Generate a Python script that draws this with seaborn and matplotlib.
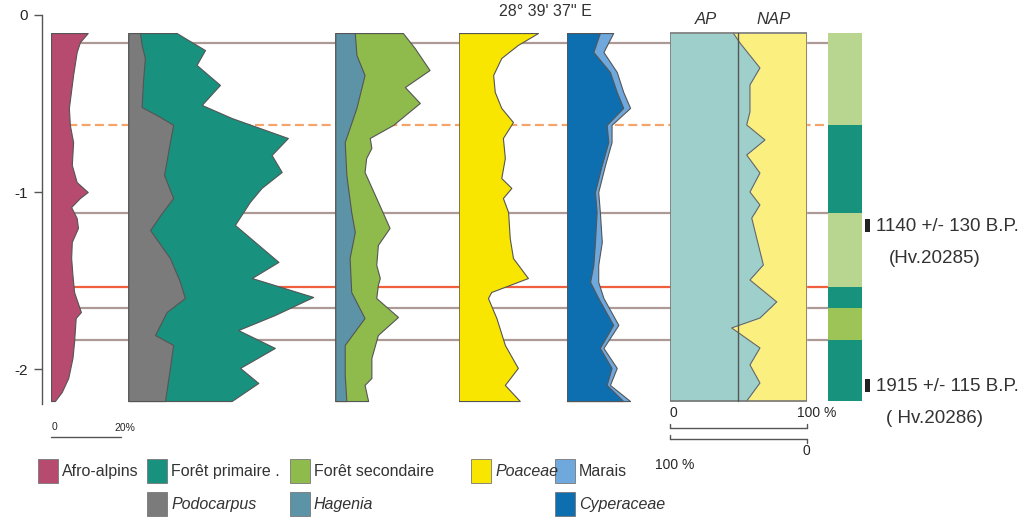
import matplotlib
matplotlib.use("Agg")
import matplotlib.pyplot as plt
from matplotlib.patches import Rectangle
import numpy as np
import pandas as pd
import seaborn as sns

# ---------------- data (depth in m, values in %) ----------------
afro_depth = [-0.102, -0.153, -0.209, -0.339, -0.525, -0.621, -0.718, -0.847, -0.944, -1.000,
              -1.034, -1.085, -1.147, -1.203, -1.282, -1.373, -1.469, -1.565, -1.678, -1.712,
              -1.847, -1.938, -2.051, -2.130, -2.181]
afro_pct = [11.3, 8.9, 7.9, 6.8, 5.5, 5.8, 6.8, 6.4, 7.9, 11.3,
            8.9, 6.2, 7.9, 8.3, 6.4, 6.2, 6.6, 7.1, 9.2, 7.6,
            7.1, 6.6, 5.3, 3.3, 1.2]

podo_depth = [-0.102, -0.169, -0.243, -0.379, -0.520, -0.576, -0.621, -0.718, -0.904, -1.034,
              -1.119, -1.215, -1.373, -1.508, -1.599, -1.678, -1.808, -1.864, -1.994, -2.181]
podo_pct = [3.6, 4.1, 5.1, 4.5, 4.1, 9.8, 13.8, 12.8, 11.0, 13.8,
            10.3, 6.7, 12.8, 15.9, 17.4, 11.8, 8.2, 13.8, 12.8, 11.3]

prim_depth = [-0.102, -0.130, -0.198, -0.282, -0.395, -0.508, -0.582, -0.695, -0.791, -0.887,
              -0.977, -1.056, -1.186, -1.395, -1.486, -1.593, -1.695, -1.780, -1.881, -1.994,
              -2.079, -2.181]
prim_pct = [14.9, 17.4, 23.6, 21.0, 28.2, 22.6, 31.8, 49.1, 44.1, 47.2,
            41.0, 37.4, 32.8, 46.2, 38.0, 56.9, 45.1, 33.8, 45.1, 34.4,
            40.0, 31.8]

hag_depth = [-0.102, -0.226, -0.339, -0.525, -0.718, -0.904, -1.113, -1.226, -1.373, -1.565,
             -1.712, -1.864, -2.034, -2.181]
hag_pct = [6.0, 6.5, 9.0, 6.5, 2.9, 3.4, 4.9, 6.0, 4.4, 4.9, 9.0, 2.9, 2.9, 3.4]

sec_depth = [-0.102, -0.186, -0.311, -0.407, -0.497, -0.621, -0.695, -0.751, -0.808, -0.887,
             -1.034, -1.203, -1.299, -1.412, -1.486, -1.525, -1.599, -1.706, -1.808, -1.938,
             -2.051, -2.090, -2.181]
sec_pct = [20.8, 24.4, 29.0, 21.4, 26.0, 17.8, 10.6, 11.1, 9.5, 9.0,
           12.6, 16.7, 13.1, 12.6, 13.7, 13.1, 12.6, 19.3, 13.1, 11.1,
           11.1, 9.0, 10.1]

poa_depth = [-0.102, -0.169, -0.243, -0.339, -0.435, -0.525, -0.605, -0.695, -0.808, -0.921,
             -0.977, -1.034, -1.113, -1.260, -1.373, -1.486, -1.565, -1.599, -1.712, -1.864,
             -1.994, -2.090, -2.181]
poa_pct = [24.4, 18.2, 13.1, 10.6, 11.1, 13.1, 16.7, 13.6, 14.2, 13.1,
           16.2, 13.6, 15.2, 15.7, 16.7, 21.3, 10.0, 9.0, 11.6, 14.2,
           18.2, 14.2, 18.8]

cyp_depth = [-0.102, -0.209, -0.322, -0.435, -0.525, -0.621, -0.718, -0.847, -1.000, -1.113,
             -1.282, -1.412, -1.508, -1.599, -1.751, -1.881, -1.994, -2.090, -2.181]
cyp_pct = [10.2, 8.2, 13.3, 15.4, 17.4, 12.3, 12.8, 10.8, 8.7, 9.2,
           8.7, 8.2, 7.2, 9.7, 14.3, 10.2, 13.8, 12.3, 17.4]
mar_pct = [14.3, 11.3, 15.4, 17.4, 19.5, 13.8, 13.8, 11.8, 9.7, 10.2,
           10.8, 9.7, 9.7, 11.3, 15.9, 11.3, 15.4, 13.3, 19.5]

ap_depth = [-0.102, -0.158, -0.299, -0.395, -0.548, -0.621, -0.706, -0.791, -0.893, -1.000,
            -1.073, -1.147, -1.260, -1.412, -1.497, -1.621, -1.712, -1.768, -1.881, -1.977,
            -2.079, -2.181]
ap_pct = [46.3, 51.2, 65.8, 58.5, 58.5, 56.1, 69.5, 56.1, 65.8, 58.5,
          65.8, 59.8, 63.4, 68.3, 58.5, 78.1, 65.8, 45.1, 65.8, 58.5,
          65.8, 56.1]

zone_bounds = [-0.102, -0.621, -1.119, -1.537, -1.655, -1.836, -2.181]
zone_colors = ["#b9d690", "#17937d", "#b9d690", "#17937d", "#9cc456", "#17937d"]

line_depths = [-0.158, -0.621, -1.119, -1.537, -1.655, -1.836]
line_colors = ["#ad9a97", "#f2a46a", "#ad9a97", "#f0603e", "#ad9a97", "#ad9a97"]
line_styles = ["-", "--", "-", "-", "-", "-"]

date_depths = [-1.192, -2.096]
date_labels = ["1140 +/- 130 B.P.", "1915 +/- 115 B.P."]
lab_codes = ["(Hv.20285)", "( Hv.20286)"]

depth_ticks = [0, -1, -2]
depth_ticklabels = ["0", "-1", "-2"]

# ---------------- colours ----------------
C_AFRO = "#b64a6f"
C_PODO = "#7b7b7b"
C_PRIM = "#19917f"
C_HAG = "#5d93a6"
C_SEC = "#8fba4c"
C_POA = "#f8e600"
C_CYP = "#0d6fb0"
C_MAR = "#6ea8dc"
C_AP = "#9ecfca"
C_NAP = "#fbef80"
EDGE = "#555555"

# ---------------- figure ----------------
W, H = 1027, 517
sns.set_style("white")
plt.rcParams["font.family"] = ["Liberation Sans", "DejaVu Sans"]
fig = plt.figure(figsize=(W / 100, H / 100), dpi=100)
fig.patch.set_facecolor("white")

D_TOP = 15 / 177.0
D_BOT = -(H - 15) / 177.0
SCALE = 3.25  # px per percent


def depth_of(py):
    return -(py - 15) / 177.0


def add_ax(x0, w, z=2):
    ax = fig.add_axes([x0 / W, 0, w / W, 1], zorder=z)
    ax.set_ylim(D_BOT, D_TOP)
    ax.patch.set_visible(False)
    ax.set_xticks([])
    ax.set_yticks([])
    for s in ax.spines.values():
        s.set_visible(False)
    return ax


# background axes for zone lines (pixel x, depth y)
ax_bg = fig.add_axes([0, 0, 1, 1], zorder=0)
ax_bg.set_xlim(0, W)
ax_bg.set_ylim(D_BOT, D_TOP)
ax_bg.axis("off")
for d, c, ls in zip(line_depths, line_colors, line_styles):
    ax_bg.plot([55, 828], [d, d], color=c, ls=ls, lw=1.6, dashes=(4, 2) if ls == "--" else (None, None))

# depth axis
ax_d = fig.add_axes([42 / W, 0, 0.5 / W, 1], zorder=1)
ax_d.set_ylim(D_BOT, D_TOP)
ax_d.patch.set_visible(False)
for k in ["top", "right", "bottom"]:
    ax_d.spines[k].set_visible(False)
ax_d.spines["left"].set_bounds(-2.2, 0)
ax_d.spines["left"].set_color("#555555")
ax_d.spines["left"].set_linewidth(1.0)
ax_d.set_xticks([])
ax_d.set_yticks(depth_ticks)
ax_d.set_yticklabels(depth_ticklabels, fontsize=11)
ax_d.tick_params(axis="y", length=6, width=1, color="#555555", pad=4, left=True)


def panel(ax, depth, vals, color, z=2):
    ax.fill_betweenx(depth, 0, vals, facecolor=color, edgecolor=EDGE, lw=0.8, zorder=z)


# Afro-alpins
ax1 = add_ax(51, 75)
ax1.set_xlim(0, 75 / SCALE)
panel(ax1, afro_depth, afro_pct, C_AFRO)
ds = depth_of(437)
ax1.plot([0, 21.5], [ds, ds], color="#555555", lw=1.0, clip_on=False)
ax1.text(0.3, depth_of(427), "0", fontsize=7.5, ha="left", va="center")
ax1.text(19.5, depth_of(428), "20%", fontsize=7.5, ha="left", va="center")

# Forêt primaire + Podocarpus
ax2 = add_ax(128.3, 200)
ax2.set_xlim(0, 200 / SCALE)
panel(ax2, prim_depth, prim_pct, C_PRIM)
panel(ax2, podo_depth, podo_pct, C_PODO, z=3)

# Forêt secondaire + Hagenia
ax3 = add_ax(335.3, 110)
ax3.set_xlim(0, 110 / SCALE)
panel(ax3, sec_depth, sec_pct, C_SEC)
panel(ax3, hag_depth, hag_pct, C_HAG, z=3)

# Poaceae
ax4 = add_ax(458.7, 100)
ax4.set_xlim(0, 100 / SCALE)
panel(ax4, poa_depth, poa_pct, C_POA)

# Marais + Cyperaceae
ax5 = add_ax(566.7, 90)
ax5.set_xlim(0, 90 / SCALE)
panel(ax5, cyp_depth, mar_pct, C_MAR)
panel(ax5, cyp_depth, cyp_pct, C_CYP, z=3)

# AP / NAP
ax6 = add_ax(670, 136.7)
ax6.set_xlim(0, 100)
ax6.fill_betweenx(ap_depth, 0, ap_pct, facecolor=C_AP, lw=0, zorder=2)
ax6.fill_betweenx(ap_depth, ap_pct, 100, facecolor=C_NAP, lw=0, zorder=2)
ap_df = pd.DataFrame({"depth": ap_depth, "ap": ap_pct})
sns.lineplot(data=ap_df, x="ap", y="depth", ax=ax6, orient="y", estimator=None,
             color="#666666", lw=0.8, zorder=3, legend=False)
ax6.set_ylim(D_BOT, D_TOP)
ax6.set_xlabel("")
ax6.set_ylabel("")
ax6.add_patch(Rectangle((0, zone_bounds[-1]), 100, zone_bounds[0] - zone_bounds[-1],
                        fill=False, edgecolor="#777777", lw=1.2, zorder=4))
ax6.plot([50, 50], [zone_bounds[0], zone_bounds[-1]], color="#555555", lw=1.0, zorder=4)
ax6.text(26, depth_of(20), "AP", fontsize=12, style="italic", ha="center", va="center", color="#333333")
ax6.text(76, depth_of(20), "NAP", fontsize=12, style="italic", ha="center", va="center", color="#333333")
# scale bars under AP/NAP
y1 = depth_of(428)
ax6.plot([0, 100], [y1, y1], color="#555555", lw=1.0, clip_on=False)
ax6.plot([0, 0], [y1, depth_of(424)], color="#555555", lw=1.0, clip_on=False)
ax6.plot([100, 100], [y1, depth_of(424)], color="#555555", lw=1.0, clip_on=False)
ax6.text(0, depth_of(413), "0", fontsize=10, ha="left", va="center")
ax6.text(93, depth_of(413), "100 %", fontsize=10, ha="left", va="center")
y2 = depth_of(439)
ax6.plot([0, 100], [y2, y2], color="#555555", lw=1.0, clip_on=False)
ax6.plot([0, 0], [y2, depth_of(435)], color="#555555", lw=1.0, clip_on=False)
ax6.plot([100, 100], [y2, depth_of(443)], color="#555555", lw=1.0, clip_on=False)
ax6.text(100, depth_of(451), "0", fontsize=10, ha="center", va="center")
ax6.text(-11, depth_of(465), "100 %", fontsize=10, ha="left", va="center")

# zone column
ax7 = add_ax(828, 34)
ax7.set_xlim(0, 1)
bottoms = zone_bounds[1:]
heights = [t - b for t, b in zip(zone_bounds[:-1], zone_bounds[1:])]
ax7.bar([0.5] * len(bottoms), heights, bottom=bottoms, width=1.0, color=zone_colors, lw=0)

# overlay axes in pixel coords for legend / labels
axp = fig.add_axes([0, 0, 1, 1], zorder=5)
axp.set_xlim(0, W)
axp.set_ylim(H, 0)
axp.axis("off")

# date markers
for d, lab, code in zip(date_depths, date_labels, lab_codes):
    py = 15 - d * 177
    axp.add_patch(Rectangle((865, py - 6.5), 5, 13, facecolor="#222222", lw=0))
    axp.text(876, py + 1, lab, fontsize=13.5, ha="left", va="center", color="#333333")
    axp.text(889 if code.startswith("(H") else 886, py + 33, code, fontsize=13.5,
             ha="left", va="center", color="#333333")

axp.text(545, 11, "28° 39' 37'' E", fontsize=11.5, ha="center", va="center", color="#333333")

# legend
legend_items = [
    (38, 459, C_AFRO, "Afro-alpins", "normal"),
    (147, 459, C_PRIM, "Forêt primaire .", "normal"),
    (290, 459, C_SEC, "Forêt secondaire", "normal"),
    (471, 459, C_POA, "Poaceae", "italic"),
    (555, 459, C_MAR, "Marais", "normal"),
    (147, 492, C_PODO, "Podocarpus", "italic"),
    (290, 492, C_HAG, "Hagenia", "italic"),
    (555, 492, C_CYP, "Cyperaceae", "italic"),
]
for x0, y0, col, lab, st in legend_items:
    axp.add_patch(Rectangle((x0, y0), 20, 24, facecolor=col, edgecolor="#777777", lw=0.6))
    axp.text(x0 + 24, y0 + 12.5, lab, fontsize=11.5, style=st, ha="left", va="center", color="#333333")

fig.savefig("out.png", dpi=100, facecolor="white")
